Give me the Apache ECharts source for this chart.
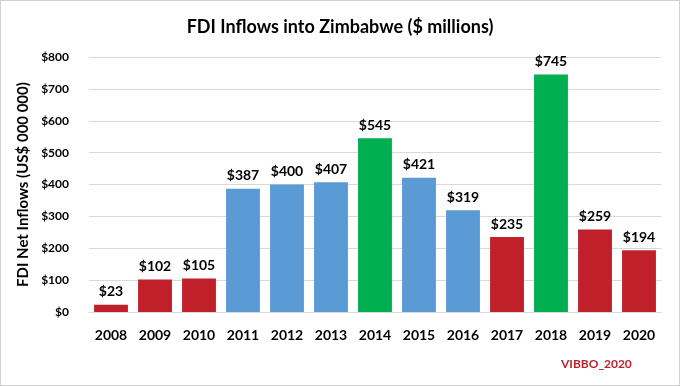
<!DOCTYPE html>
<html><head><meta charset="utf-8">
<script src="https://cdn.jsdelivr.net/npm/echarts@6/dist/echarts.min.js"></script>
<style>html,body{margin:0;padding:0;background:#fff}#c{width:680px;height:386px;box-sizing:border-box;border:1px solid #d0d0d0}</style>
</head><body><div id="c"></div>
<script>
const years = ['2008','2009','2010','2011','2012','2013','2014','2015','2016','2017','2018','2019','2020'];
const values = [23,102,105,387,400,407,545,421,319,235,745,259,194];
const groups = ['r','r','r','b','b','b','g','b','b','r','g','r','r'];
const yTicks = [0,100,200,300,400,500,600,700,800];
const colorMap = {r:'#C0202A', b:'#5B9BD5', g:'#00B050'};
const F = 'Lato, "Open Sans", sans-serif';
const chart = echarts.init(document.getElementById('c'));
chart.setOption({
  animation:false,
  title:{text:'FDI Inflows into Zimbabwe ($ millions)', left:'center', top:12,
    textStyle:{fontFamily:F, fontSize:18, fontWeight:'bold', color:'#000'}},
  graphic:[{type:'text', left:560, top:357, style:{text:'VIBBO_2020', fill:'#C0202A', font:'bold 12px '+F}}],
  grid:{left:88, right:18, top:56, bottom:73},
  xAxis:{type:'category', data:years,
    axisLine:{lineStyle:{color:'#d9d9d9'}}, axisTick:{show:false},
    axisLabel:{fontFamily:F, fontSize:14, fontWeight:'bold', color:'#000', margin:16}},
  yAxis:{type:'value', min:0, max:800, interval:100,
    name:'FDI Net Inflows (US$ 000 000)', nameLocation:'middle', nameGap:58,
    nameTextStyle:{fontFamily:F, fontSize:15, fontWeight:'bold', color:'#000'},
    axisLabel:{fontFamily:F, fontSize:12, fontWeight:'bold', color:'#000', margin:20,
      formatter:v=>'$'+v},
    splitLine:{lineStyle:{color:'#d9d9d9'}}},
  series:[{type:'bar', barWidth:'77%',
    data: values.map((v,i)=>({value:v, itemStyle:{color:colorMap[groups[i]]}})),
    label:{show:true, position:'top', distance:6, formatter:p=>'$'+p.value,
      fontFamily:F, fontSize:14, fontWeight:'bold', color:'#000'}}]
});
</script></body></html>
